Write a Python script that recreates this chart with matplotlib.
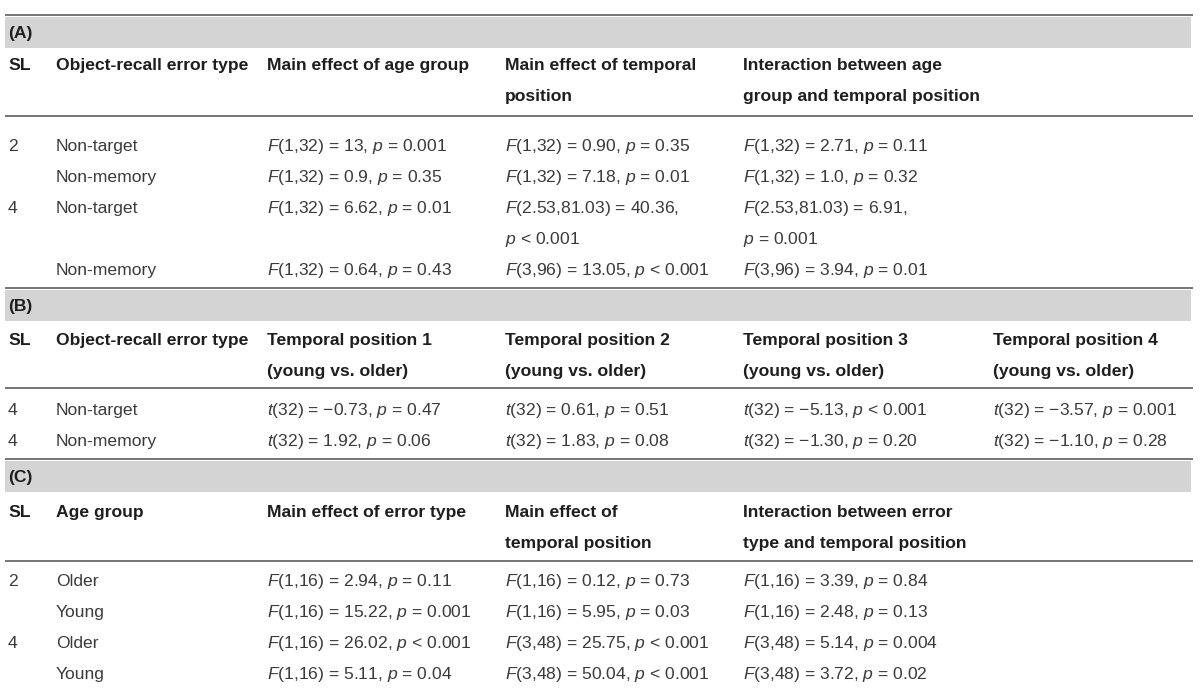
import matplotlib
matplotlib.use("Agg")
import matplotlib.pyplot as plt

plt.rcParams['font.family'] = ['Liberation Sans', 'DejaVu Sans']
plt.rcParams['mathtext.fontset'] = 'custom'
plt.rcParams['mathtext.it'] = 'Liberation Sans:italic'
plt.rcParams['mathtext.rm'] = 'Liberation Sans'

# ---- table content ----
labels = ["(A)", "(B)", "(C)"]

head_a = ["SL", "Object-recall error type", "Main effect of age group",
          "Main effect of temporal\nposition",
          "Interaction between age\ngroup and temporal position"]
sl_a = ["2", "", "4", ""]
type_a = ["Non-target", "Non-memory", "Non-target", "Non-memory"]
age_a = ["$F$(1,32) = 13, $p$ = 0.001", "$F$(1,32) = 0.9, $p$ = 0.35",
         "$F$(1,32) = 6.62, $p$ = 0.01", "$F$(1,32) = 0.64, $p$ = 0.43"]
temp_a = ["$F$(1,32) = 0.90, $p$ = 0.35", "$F$(1,32) = 7.18, $p$ = 0.01",
          "$F$(2.53,81.03) = 40.36,\n$p$ < 0.001", "$F$(3,96) = 13.05, $p$ < 0.001"]
inter_a = ["$F$(1,32) = 2.71, $p$ = 0.11", "$F$(1,32) = 1.0, $p$ = 0.32",
           "$F$(2.53,81.03) = 6.91,\n$p$ = 0.001", "$F$(3,96) = 3.94, $p$ = 0.01"]

head_b = ["SL", "Object-recall error type",
          "Temporal position 1\n(young vs. older)", "Temporal position 2\n(young vs. older)",
          "Temporal position 3\n(young vs. older)", "Temporal position 4\n(young vs. older)"]
sl_b = ["4", "4"]
type_b = ["Non-target", "Non-memory"]
tp1_b = ["$t$(32) = −0.73, $p$ = 0.47", "$t$(32) = 1.92, $p$ = 0.06"]
tp2_b = ["$t$(32) = 0.61, $p$ = 0.51", "$t$(32) = 1.83, $p$ = 0.08"]
tp3_b = ["$t$(32) = −5.13, $p$ < 0.001", "$t$(32) = −1.30, $p$ = 0.20"]
tp4_b = ["$t$(32) = −3.57, $p$ = 0.001", "$t$(32) = −1.10, $p$ = 0.28"]

head_c = ["SL", "Age group", "Main effect of error type",
          "Main effect of\ntemporal position",
          "Interaction between error\ntype and temporal position"]
sl_c = ["2", "", "4", ""]
group_c = ["Older", "Young", "Older", "Young"]
err_c = ["$F$(1,16) = 2.94, $p$ = 0.11", "$F$(1,16) = 15.22, $p$ = 0.001",
         "$F$(1,16) = 26.02, $p$ < 0.001", "$F$(1,16) = 5.11, $p$ = 0.04"]
temp_c = ["$F$(1,16) = 0.12, $p$ = 0.73", "$F$(1,16) = 5.95, $p$ = 0.03",
          "$F$(3,48) = 25.75, $p$ < 0.001", "$F$(3,48) = 50.04, $p$ < 0.001"]
inter_c = ["$F$(1,16) = 3.39, $p$ = 0.84", "$F$(1,16) = 2.48, $p$ = 0.13",
           "$F$(3,48) = 5.14, $p$ = 0.004", "$F$(3,48) = 3.72, $p$ = 0.02"]

# ---- layout (pixels) ----
col_x = [8, 56, 267, 505, 743, 993]
x0, x1 = 5, 1193
lh = 31          # line height
base = 6         # baseline offset below line centre
fs = 12.6
band_col = "#d4d4d4"
rule_col = "#6a6a6a"
txt_col = "#3a3a3a"
head_col = "#1e1e1e"

# per section: top rule, header first line, header rule, first body row
sections = [
    dict(top=15, head=64, rule=116, body=145, header=head_a,
         cols=[sl_a, type_a, age_a, temp_a, inter_a]),
    dict(top=288, head=339, rule=388, body=409, header=head_b,
         cols=[sl_b, type_b, tp1_b, tp2_b, tp3_b, tp4_b]),
    dict(top=459, head=511, rule=561, body=580, header=head_c,
         cols=[sl_c, group_c, err_c, temp_c, inter_c]),
]

fig = plt.figure(figsize=(12, 6.9), dpi=100)
ax = fig.add_axes([0, 0, 1, 1])
ax.set_xlim(0, 1200)
ax.set_ylim(690, 0)
ax.axis('off')

for lab, s in zip(labels, sections):
    ax.plot([x0, x1], [s['top'], s['top']], color=rule_col, lw=1.3, solid_capstyle='butt')
    ax.fill_between([x0, x1 - 2], s['top'] + 1.5, s['top'] + 33, color=band_col, lw=0)
    ax.text(col_x[0], s['top'] + 17 + base, lab, fontsize=fs, fontweight='bold',
            color=head_col, va='baseline', ha='left')
    for j, h in enumerate(s['header']):
        for k, line in enumerate(h.split("\n")):
            ax.text(col_x[j], s['head'] + k * lh + base, line, fontsize=fs,
                    fontweight='bold', color=head_col, va='baseline', ha='left')
    ax.plot([x0, x1], [s['rule'], s['rule']], color=rule_col, lw=1.3, solid_capstyle='butt')
    y = s['body']
    for i in range(len(s['cols'][0])):
        nlines = 1
        for j, col in enumerate(s['cols']):
            parts = col[i].split("\n")
            nlines = max(nlines, len(parts))
            for k, line in enumerate(parts):
                if line:
                    ax.text(col_x[j], y + k * lh + base, line, fontsize=fs,
                            color=txt_col, va='baseline', ha='left')
        y += nlines * lh

fig.savefig("out.png", dpi=100)
